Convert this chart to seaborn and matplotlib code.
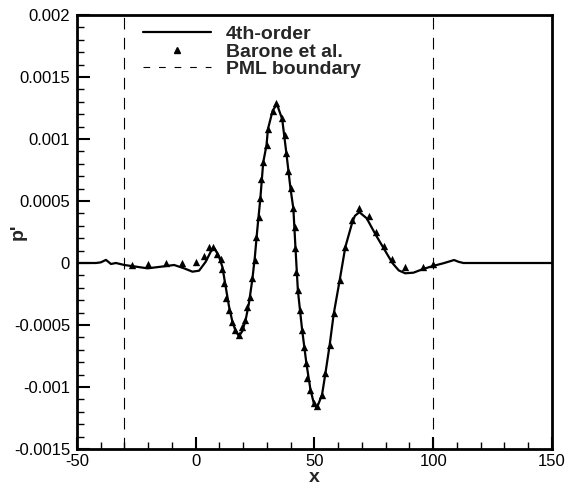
import numpy as np
import pandas as pd
import seaborn as sns
import matplotlib
matplotlib.use('Agg')
import matplotlib.pyplot as plt
from matplotlib.lines import Line2D
from matplotlib.ticker import MultipleLocator, FuncFormatter

# 4th-order solution
line_x = [-50, -42, -40, -37.8, -35.7, -33.6, -30.1, -25, -20.3, -14.7, -9.1, -4.9, -1.4, 1.4,
          4.2, 6.3, 7.4, 8.0, 9.8, 11.2, 12.6, 14.0, 15.4, 16.8, 18.2, 19.6, 21.0, 22.4,
          23.8, 24.9, 25.9, 27.2, 28.4, 29.8, 30.4, 32.4, 34.2, 36.4, 38.2, 39.9, 41.1,
          42.0, 43.0, 44.8, 46.6, 48.3, 49.7, 51.0, 53.2, 54.6, 56.4, 58.1, 60.6, 63.0,
          65.8, 67.0, 68.9, 72.0, 75.7, 79.4, 82.8, 85.5, 88.2, 91.7, 95.5, 99.9, 104.3,
          108.8, 110.6, 112.7, 150]
line_y = [0, 0, 0.000005, 0.000025, -0.000008, 0.0, -0.000016, -0.00003, -0.000043, -0.00003,
          -0.000016, -0.000043, -0.00007, -0.000062, 0.00001, 0.000091, 0.000119, 0.000115,
          0.00005, -0.00003, -0.00019, -0.00035, -0.00047, -0.00055, -0.000589, -0.00055,
          -0.00046, -0.000325, -0.000137, 0.00005, 0.000266, 0.00052, 0.00081, 0.00095,
          0.00108, 0.00123, 0.00128, 0.00116, 0.00088, 0.0006, 0.00044, 0.00012, -0.00022,
          -0.00054, -0.00081, -0.00102, -0.00113, -0.00117, -0.00106, -0.00089, -0.00066,
          -0.00041, -0.00014, 0.00013, 0.00032, 0.00038, 0.00041, 0.00036, 0.00023,
          0.00011, 0.0, -0.00006, -0.000083, -0.000078, -0.00005, -0.000024, -0.000002,
          0.000024, 0.00001, 0.0, 0.0]

# Barone et al. reference points
bar_x = [-26.9, -20.0, -12.6, -5.9, -0.1, 3.5, 5.6, 7.3, 9.1, 10.5, 11.2, 11.9, 12.7, 14.0,
         15.4, 16.5, 18.2, 19.6, 20.6, 21.7, 22.8, 23.5, 24.8, 25.3, 26.8, 27.2, 27.6, 28.4,
         29.8, 30.4, 32.4, 34.0, 36.4, 37.4, 38.2, 38.8, 39.9, 41.1, 41.6, 42.0, 42.4, 43.0,
         44.1, 44.8, 45.5, 46.6, 46.9, 48.3, 49.7, 51.1, 53.2, 54.6, 56.4, 58.1, 60.6, 63.0,
         65.8, 68.9, 72.8, 75.9, 79.4, 82.8, 88.2, 95.5, 99.9]
bar_y = [-0.00002, -0.000008, 0.0, 0.000002, 0.000006, 0.000059, 0.000127, 0.000127,
         0.000073, 0.00003, -0.000051, -0.000164, -0.000285, -0.000379, -0.000473, -0.00054,
         -0.000581, -0.000519, -0.00046, -0.000352, -0.000272, -0.000123, 0.000024, 0.000207,
         0.000369, 0.000522, 0.000675, 0.000812, 0.000952, 0.001078, 0.001228, 0.001288,
         0.001167, 0.001032, 0.000885, 0.000744, 0.000602, 0.000441, 0.000288, 0.000119,
         -0.00007, -0.000218, -0.000379, -0.00054, -0.000675, -0.000809, -0.00093, -0.001024,
         -0.001131, -0.001153, -0.001065, -0.00089, -0.000661, -0.000406, -0.000137, 0.000131,
         0.000347, 0.000441, 0.000379, 0.000252, 0.000137, 0.00003, -0.000035, -0.00003,
         -0.000008]

pml_x = [-30, 100]

sns.set_style('white')
plt.rcParams['font.family'] = ['Liberation Sans', 'DejaVu Sans']

df_line = pd.DataFrame({'x': line_x, 'p': line_y})
df_bar = pd.DataFrame({'x': bar_x, 'p': bar_y})

fig = plt.figure(figsize=(5.67, 4.91), dpi=100)
ax = fig.add_axes([0.1358, 0.0855, 0.8377, 0.884])

for xv in pml_x:
    ax.axvline(xv, color='black', lw=0.8, ls=(0, (10.5, 7.5)), zorder=1)

sns.lineplot(data=df_line, x='x', y='p', ax=ax, color='black', lw=1.6,
             sort=False, zorder=3)
sns.scatterplot(data=df_bar, x='x', y='p', ax=ax, color='black', marker='^',
                s=28, edgecolor='black', linewidth=0, zorder=4)

ax.set_xlim(-50, 150)
ax.set_ylim(-0.0015, 0.002)
ax.xaxis.set_major_locator(MultipleLocator(50))
ax.xaxis.set_minor_locator(MultipleLocator(10))
ax.yaxis.set_major_locator(MultipleLocator(0.0005))
ax.yaxis.set_minor_locator(MultipleLocator(0.0001))
ax.yaxis.set_major_formatter(FuncFormatter(lambda v, p: f'{round(v, 6):g}'))
ax.xaxis.set_major_formatter(FuncFormatter(lambda v, p: f'{v:g}'))

ax.tick_params(which='both', direction='in', top=False, right=False,
               bottom=True, left=True, colors='black', labelsize=12)
ax.tick_params(which='major', length=9, width=1.5)
ax.tick_params(axis='y', which='major', pad=5)
ax.tick_params(which='minor', length=5, width=1)
for s in ax.spines.values():
    s.set_linewidth(2)
    s.set_color('black')

ax.set_xlabel('x', fontsize=14, fontweight='bold', labelpad=0)
ax.set_ylabel("p'", fontsize=14, fontweight='bold')
ax.yaxis.set_label_coords(-0.105, 0.5)

# legend handles
handles = [Line2D([], [], color='black', lw=1.6),
           Line2D([], [], color='black', marker='^', ls='none', markersize=5),
           Line2D([], [], color='black', lw=0.8, ls=(0, (6, 8)))]
labels = ['4th-order', 'Barone et al.', 'PML boundary']
ax.legend(handles, labels, loc='upper left', bbox_to_anchor=(0.138, 0.976),
          frameon=False, handlelength=3.5, handletextpad=0.8, labelspacing=0.0,
          borderaxespad=0, borderpad=0, prop={'weight': 'bold', 'size': 14})

fig.savefig('out.png', dpi=100)
